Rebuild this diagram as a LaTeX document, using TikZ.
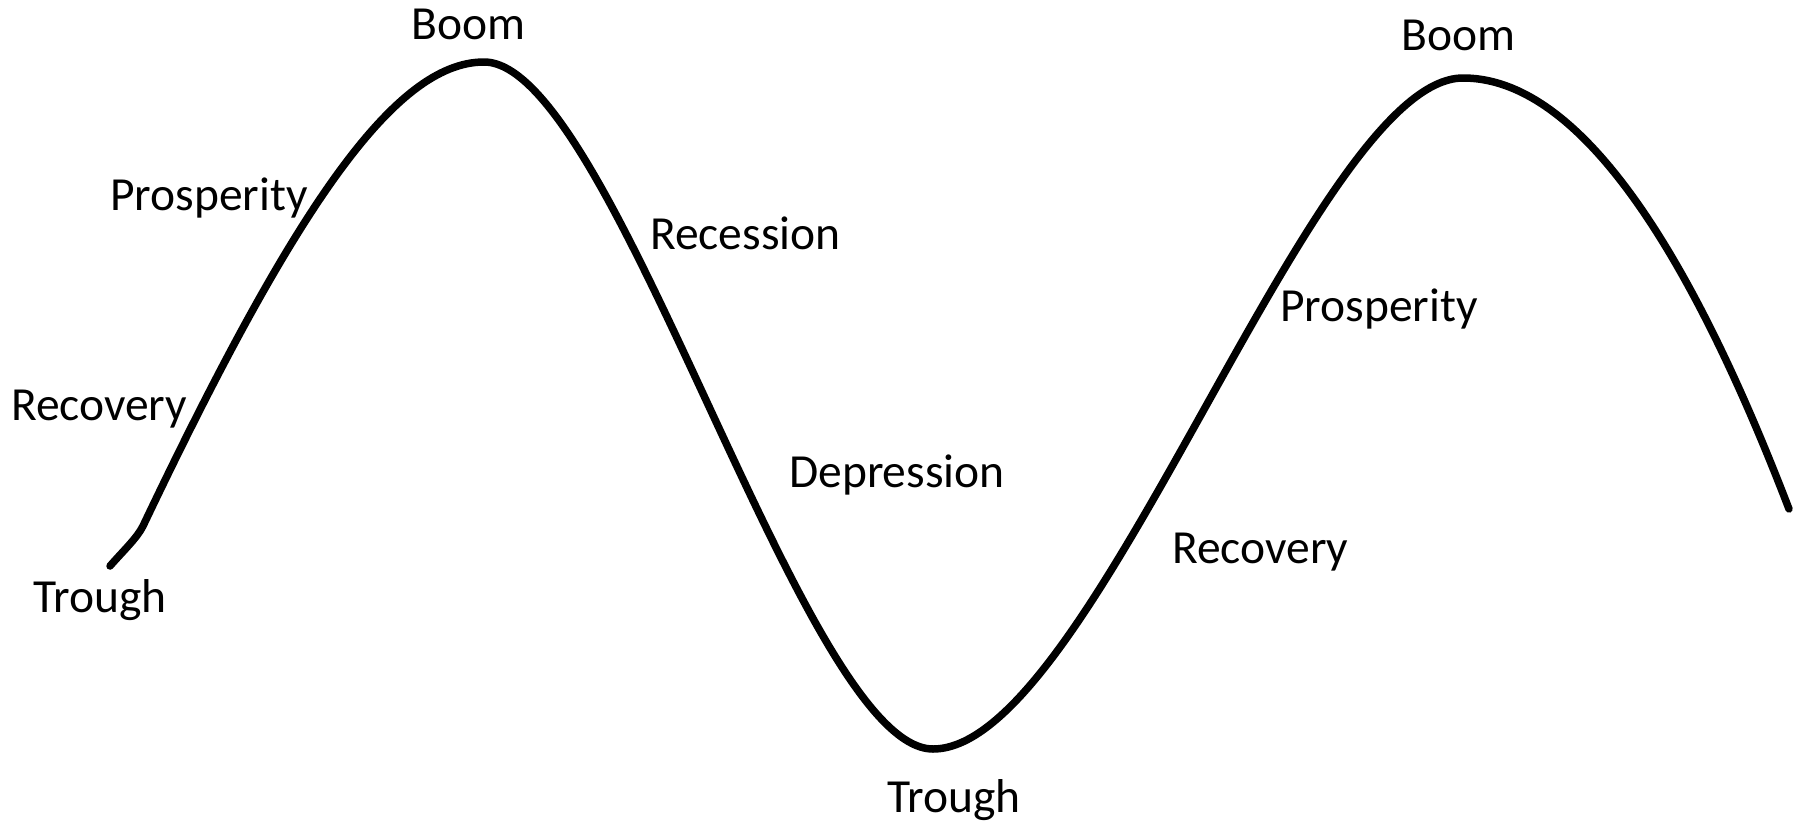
\documentclass[tikz,border=0pt]{standalone}
\usepackage{fontspec}
\setmainfont{Carlito}
\begin{document}
\begin{tikzpicture}[x=1pt,y=-1pt,
  lbl/.style={anchor=base west,inner sep=0pt,font=\fontsize{47.5}{50}\selectfont},
  wave/.style={line width=7.5pt,line cap=round,line join=round}]
\useasboundingbox (0,0) rectangle (1798,825);
\fill[white] (0,0) rectangle (1798,825);
\coordinate (s) at (110,566);
\coordinate (k) at (143,526);
\coordinate (p1) at (484,62);
\coordinate (t1) at (933,749);
\coordinate (p2) at (1463,78);
\coordinate (e) at (1789,509);
\draw[wave] (s) .. controls (124,550) and (137,538) .. (k)
  .. controls (293,211) and (394,62) .. (p1)
  .. controls (614,62) and (803,749) .. (t1)
  .. controls (1093,749) and (1313,78) .. (p2)
  .. controls (1603,78) and (1719,327) .. (e);
\node[lbl] (boom1) at (411,39) {Boom};
\node[lbl] (pros1) at (110,210) {Prosperity};
\node[lbl] (rec1) at (11,420) {Recovery};
\node[lbl] (tr1) at (33,612) {Trough};
\node[lbl] (recess) at (650,249) {Recession};
\node[lbl] (dep) at (789,487) {Depression};
\node[lbl] (tr2) at (887,812) {Trough};
\node[lbl] (rec2) at (1172,563) {Recovery};
\node[lbl] (pros2) at (1280,321) {Prosperity};
\node[lbl] (boom2) at (1401,50) {Boom};
\end{tikzpicture}
\end{document}
